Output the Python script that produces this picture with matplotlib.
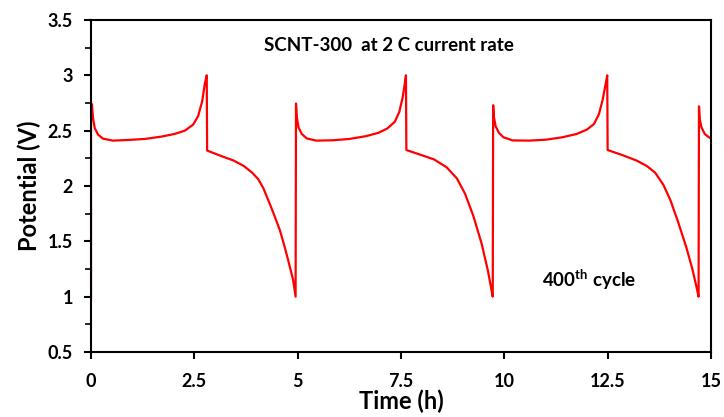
import matplotlib
matplotlib.use("Agg")
from matplotlib import pyplot as plt

plt.rcParams['font.family'] = ['Lato', 'DejaVu Sans']
plt.rcParams['font.weight'] = 'bold'
plt.rcParams['mathtext.fontset'] = 'custom'
plt.rcParams['mathtext.rm'] = 'Lato:bold'
plt.rcParams['mathtext.bf'] = 'Lato:bold'

# galvanostatic charge/discharge trace, 400th cycle (time in h, potential in V)
t_cyc1 = [0.0, 0.0, 0.024, 0.048, 0.09, 0.17, 0.29, 0.53, 0.90, 1.30, 1.70, 2.02, 2.27,
          2.47, 2.59, 2.69, 2.75, 2.80,
          2.81, 3.19, 3.45, 3.70, 3.90, 4.05, 4.17, 4.32, 4.45, 4.57, 4.67, 4.77, 4.89, 4.95]
v_cyc1 = [1.0, 2.75, 2.735, 2.614, 2.524, 2.464, 2.428, 2.41, 2.416, 2.425, 2.446, 2.47, 2.50,
          2.554, 2.63, 2.765, 2.915, 3.0,
          2.32, 2.265, 2.23, 2.18, 2.12, 2.06, 1.98, 1.844, 1.72, 1.60, 1.47, 1.33, 1.15, 1.0]

t_cyc2 = [4.96, 4.98, 5.02, 5.10, 5.22, 5.45, 5.85, 6.25, 6.65, 6.95, 7.17, 7.35, 7.46,
          7.54, 7.59, 7.62,
          7.63, 7.95, 8.30, 8.60, 8.85, 9.05, 9.25, 9.45, 9.60, 9.70, 9.72]
v_cyc2 = [2.745, 2.62, 2.53, 2.47, 2.43, 2.41, 2.413, 2.425, 2.45, 2.48, 2.52, 2.58, 2.67,
          2.80, 2.92, 3.0,
          2.325, 2.285, 2.24, 2.17, 2.07, 1.93, 1.73, 1.48, 1.24, 1.04, 1.0]

t_cyc3 = [9.73, 9.75, 9.79, 9.87, 9.98, 10.2, 10.6, 11.0, 11.4, 11.75, 12.0, 12.17, 12.29,
          12.38, 12.45, 12.49,
          12.50, 12.85, 13.2, 13.45, 13.65, 13.85, 14.02, 14.2, 14.4, 14.55, 14.66, 14.70]
v_cyc3 = [2.73, 2.62, 2.54, 2.48, 2.44, 2.412, 2.41, 2.418, 2.44, 2.47, 2.51, 2.56, 2.65,
          2.78, 2.92, 3.0,
          2.325, 2.28, 2.23, 2.18, 2.12, 2.01, 1.87, 1.68, 1.45, 1.25, 1.07, 1.0]

t_cyc4 = [14.71, 14.73, 14.77, 14.85, 14.95, 15.0]
v_cyc4 = [2.72, 2.60, 2.53, 2.47, 2.44, 2.43]

xticks = [0, 2.5, 5, 7.5, 10, 12.5, 15]
xtick_labels = ['0', '2.5', '5', '7.5', '10', '12.5', '15']
yticks = [0.5, 1, 1.5, 2, 2.5, 3, 3.5]
ytick_labels = ['0.5', '1', '1.5', '2', '2.5', '3', '3.5']


def plotCycle():
    time_h = t_cyc1 + t_cyc2 + t_cyc3 + t_cyc4
    voltage = v_cyc1 + v_cyc2 + v_cyc3 + v_cyc4

    fig = plt.figure(figsize=(7.24, 4.17), dpi=100)
    ax = fig.add_axes([0.1257, 0.156, 0.8563, 0.796])

    ax.plot(time_h, voltage, color='#ff0000', linewidth=1.6, solid_joinstyle='round')

    ax.set_xlim(0, 15)
    ax.set_ylim(0.5, 3.5)
    ax.set_xticks(xticks)
    ax.set_xticklabels(xtick_labels)
    ax.set_yticks(yticks)
    ax.set_yticklabels(ytick_labels)
    ax.set_yticks([0.75, 1.25, 1.75, 2.25, 2.75, 3.25], minor=True)

    for s in ax.spines.values():
        s.set_linewidth(1.5)
    ax.tick_params(axis='both', which='major', direction='out', length=5, width=1.5,
                   labelsize=13)
    ax.tick_params(axis='x', which='major', pad=10)
    ax.tick_params(axis='y', which='major', pad=8)
    ax.tick_params(axis='y', which='minor', direction='out', length=4, width=1.2)
    for lab in ax.get_xticklabels() + ax.get_yticklabels():
        lab.set_fontweight('bold')

    ax.set_xlabel('Time (h)', fontsize=17, fontweight='bold', labelpad=0)
    ax.set_ylabel('Potential (V)', fontsize=17, fontweight='bold', labelpad=5)

    ax.text(7.21, 3.27, 'SCNT-300  at 2 C current rate', fontsize=13.5,
            fontweight='bold', ha='center', va='center')
    ax.text(10.9, 1.15, '400$^{\\mathrm{th}}$ cycle', fontsize=13.5,
            fontweight='bold', ha='left', va='center')

    fig.savefig('out.png', dpi=100)


if( __name__ == "__main__" ) :
    plotCycle()
